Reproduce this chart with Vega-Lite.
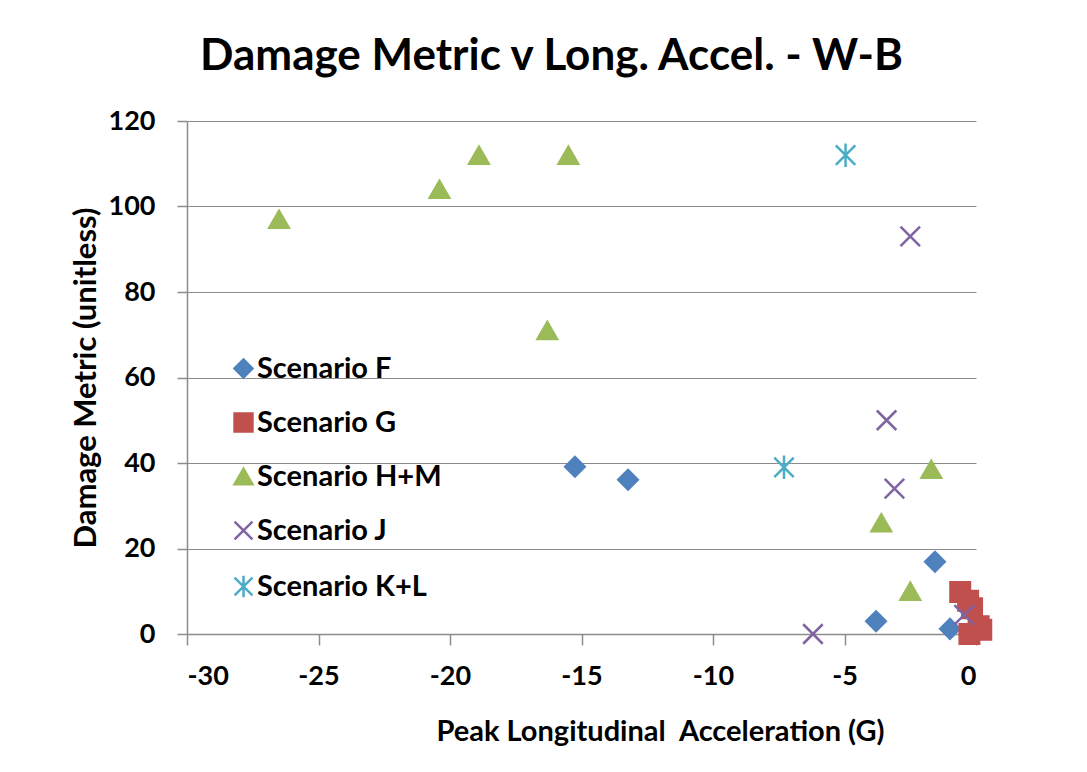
{
  "$schema": "https://vega.github.io/schema/vega-lite/v6.json",
  "width": 789,
  "height": 513,
  "autosize": {"type": "none"},
  "padding": {"left": 187, "top": 121, "right": 111, "bottom": 138},
  "background": "white",
  "title": {
    "text": "Damage Metric v Long. Accel. - W-B",
    "font": "Lato",
    "fontSize": 44,
    "fontWeight": "bold",
    "color": "#000000",
    "anchor": "middle",
    "frame": "group",
    "baseline": "alphabetic",
    "offset": -7,
    "dx": -30
  },
  "data": {
    "values": [
      {"scenario": "Scenario F", "accel": -15.25, "damage": 39.1},
      {"scenario": "Scenario F", "accel": -13.23, "damage": 36.1},
      {"scenario": "Scenario F", "accel": -3.8, "damage": 3.0},
      {"scenario": "Scenario F", "accel": -1.56, "damage": 16.9},
      {"scenario": "Scenario F", "accel": -0.99, "damage": 1.2},
      {"scenario": "Scenario G", "accel": -0.6, "damage": 9.8},
      {"scenario": "Scenario G", "accel": -0.3, "damage": 7.8},
      {"scenario": "Scenario G", "accel": -0.15, "damage": 6.0},
      {"scenario": "Scenario G", "accel": 0.1, "damage": 1.8},
      {"scenario": "Scenario G", "accel": -0.25, "damage": 0.0},
      {"scenario": "Scenario G", "accel": 0.2, "damage": 1.0},
      {"scenario": "Scenario H+M", "accel": -26.5, "damage": 97},
      {"scenario": "Scenario H+M", "accel": -20.4, "damage": 104},
      {"scenario": "Scenario H+M", "accel": -18.9, "damage": 112},
      {"scenario": "Scenario H+M", "accel": -15.5, "damage": 112},
      {"scenario": "Scenario H+M", "accel": -16.3, "damage": 71},
      {"scenario": "Scenario H+M", "accel": -3.6, "damage": 26},
      {"scenario": "Scenario H+M", "accel": -1.7, "damage": 38.5},
      {"scenario": "Scenario H+M", "accel": -2.5, "damage": 10},
      {"scenario": "Scenario J", "accel": -2.5, "damage": 93},
      {"scenario": "Scenario J", "accel": -3.4, "damage": 50},
      {"scenario": "Scenario J", "accel": -3.1, "damage": 34},
      {"scenario": "Scenario J", "accel": -6.2, "damage": 0},
      {"scenario": "Scenario J", "accel": -0.45, "damage": 4.5},
      {"scenario": "Scenario K+L", "accel": -4.96, "damage": 112},
      {"scenario": "Scenario K+L", "accel": -7.3, "damage": 39}
    ]
  },
  "mark": {"type": "point", "filled": true, "opacity": 1, "size": 380, "strokeWidth": 2.5},
  "encoding": {
    "x": {
      "field": "accel",
      "type": "quantitative",
      "scale": {"domain": [-30, 0], "nice": false, "zero": false},
      "axis": {
        "title": "Peak Longitudinal\u00a0 Acceleration (G)",
        "values": [-30, -25, -20, -15, -10, -5, 0],
        "labelExpr": "toString(datum.value)",
        "grid": false,
        "tickSize": 11,
        "labelPadding": 18,
        "titlePadding": 28,
        "titleFontSize": 29,
        "titleX": 473
      }
    },
    "y": {
      "field": "damage",
      "type": "quantitative",
      "scale": {"domain": [0, 120], "nice": false},
      "axis": {
        "title": "Damage Metric (unitless)",
        "values": [0, 20, 40, 60, 80, 100, 120],
        "labelExpr": "toString(datum.value)",
        "grid": true,
        "tickSize": 10,
        "labelPadding": 22,
        "titlePadding": 6,
        "titleFontSize": 31
      }
    },
    "color": {
      "field": "scenario",
      "type": "nominal",
      "scale": {
        "domain": ["Scenario F", "Scenario G", "Scenario H+M", "Scenario J", "Scenario K+L"],
        "range": ["#4F81BD", "#C0504D", "#9BBB59", "#8064A2", "#4BACC6"]
      },
      "legend": {
        "title": null,
        "orient": "none",
        "legendX": 42,
        "legendY": 233,
        "labelFont": "Lato",
        "labelFontSize": 29,
        "labelFontWeight": "bold",
        "labelColor": "#000000",
        "labelLimit": 400,
        "labelOffset": -1,
        "rowPadding": 24,
        "symbolSize": 320,
        "symbolStrokeWidth": 2.5
      }
    },
    "stroke": {
      "field": "scenario",
      "type": "nominal",
      "scale": {
        "domain": ["Scenario F", "Scenario G", "Scenario H+M", "Scenario J", "Scenario K+L"],
        "range": ["#4F81BD", "#C0504D", "#9BBB59", "#8064A2", "#4BACC6"]
      },
      "legend": {
        "title": null,
        "orient": "none",
        "legendX": 42,
        "legendY": 233,
        "labelFont": "Lato",
        "labelFontSize": 29,
        "labelFontWeight": "bold",
        "labelColor": "#000000",
        "labelLimit": 400,
        "labelOffset": -1,
        "rowPadding": 24,
        "symbolSize": 320,
        "symbolStrokeWidth": 2.5
      }
    },
    "shape": {
      "field": "scenario",
      "type": "nominal",
      "scale": {
        "domain": ["Scenario F", "Scenario G", "Scenario H+M", "Scenario J", "Scenario K+L"],
        "range": ["diamond", "square", "triangle-up", "M-1,-1L1,1M-1,1L1,-1", "M-1,-1L1,1M-1,1L1,-1M0,-1.2L0,1.2"]
      },
      "legend": {
        "title": null,
        "orient": "none",
        "legendX": 42,
        "legendY": 233,
        "labelFont": "Lato",
        "labelFontSize": 29,
        "labelFontWeight": "bold",
        "labelColor": "#000000",
        "labelLimit": 400,
        "labelOffset": -1,
        "rowPadding": 24,
        "symbolSize": 320,
        "symbolStrokeWidth": 2.5
      }
    }
  },
  "config": {
    "view": {"stroke": null},
    "axis": {
      "labelFont": "Lato",
      "labelFontSize": 27,
      "labelFontWeight": "bold",
      "labelColor": "#000000",
      "titleFont": "Lato",
      "titleFontWeight": "bold",
      "titleColor": "#000000",
      "domainColor": "#8C8C8C",
      "domainWidth": 1.5,
      "tickColor": "#8C8C8C",
      "tickWidth": 1.5,
      "gridColor": "#8C8C8C",
      "gridWidth": 1.2
    }
  }
}
